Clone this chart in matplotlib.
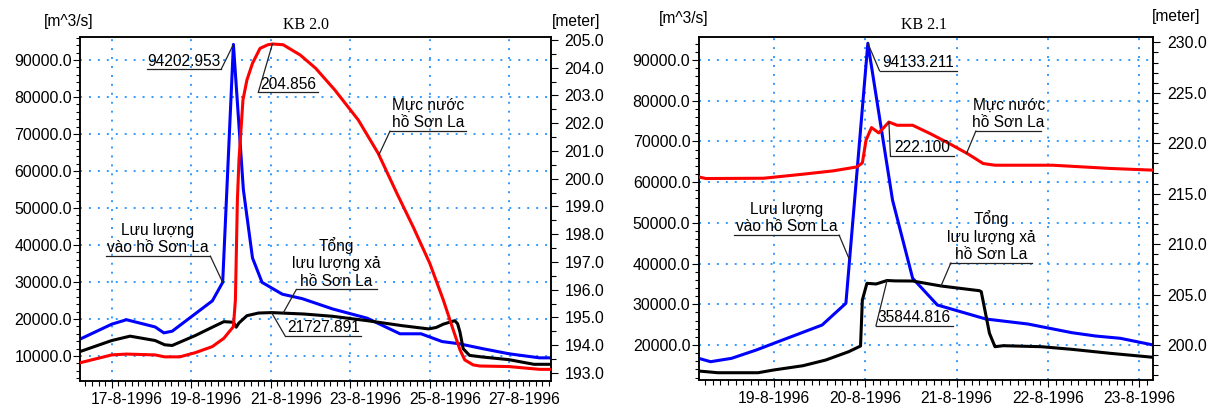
import matplotlib
matplotlib.use("Agg")
import matplotlib.pyplot as plt
import matplotlib.dates as mdates
import matplotlib.transforms as mtransforms
from matplotlib.ticker import MultipleLocator, FormatStrFormatter, FuncFormatter
import numpy as np
from datetime import datetime

plt.rcParams["font.family"] = ["Liberation Sans", "DejaVu Sans"]
plt.rcParams["font.size"] = 11.2

# ---- KB 2.0 (ngay trong thang 8/1996) ----
kb20_q_in_t = [16.21, 17.0, 17.37, 18.09, 18.31, 18.52, 19.53, 19.79, 20.06, 20.31, 20.54, 20.78,
               21.29, 21.79, 22.56, 23.43, 24.25, 24.78, 25.31, 25.74, 26.32, 26.99, 27.76, 28.05]
kb20_q_in = [14600, 18600, 19800, 17850, 16250, 16700, 24900, 29900, 94202.953, 55000, 36500, 29900,
             26700, 25500, 22700, 20200, 16000, 16000, 13900, 13300, 12000, 10600, 9500, 9500]

kb20_q_out_t = [16.21, 17.0, 17.46, 18.09, 18.33, 18.52, 18.81, 19.10, 19.53, 19.82, 20.06, 20.13,
                20.20, 20.40, 20.69, 21.02, 21.84, 22.56, 23.43, 24.30, 24.97, 25.16, 25.34, 25.55,
                25.63, 25.70, 25.76, 25.84, 26.0, 26.32, 26.99, 27.62, 28.05]
kb20_q_out = [11230, 14180, 15360, 14180, 13030, 12840, 14180, 15520, 17780, 19280, 19120, 17780,
              18930, 20890, 21610, 21727.891, 21340, 20720, 19540, 18200, 17320, 17700, 18600, 19300,
              19540, 18700, 16430, 11960, 10160, 9730, 9010, 7750, 7750]

kb20_h_t = [16.21, 17.0, 17.37, 18.09, 18.33, 18.71, 19.10, 19.53, 19.82, 20.06, 20.11, 20.16,
            20.20, 20.30, 20.40, 20.54, 20.73, 20.93, 21.04, 21.31, 21.74, 22.13, 22.61, 23.20,
            23.70, 24.17, 24.58, 25.0, 25.34, 25.59, 25.76, 25.88, 26.09, 26.26, 26.99, 27.76, 28.05]
kb20_h = [193.37, 193.65, 193.68, 193.65, 193.58, 193.58, 193.73, 193.95, 194.25, 194.67, 195.63, 199.23,
          200.68, 202.84, 203.56, 204.16, 204.70, 204.83, 204.856, 204.83, 204.46, 203.98, 203.20, 202.12,
          200.92, 199.48, 198.27, 196.95, 195.63, 194.55, 193.83, 193.47, 193.29, 193.25, 193.23, 193.13, 193.13]

# ---- KB 2.1 ----
kb21_q_in_t = [18.18, 18.31, 18.54, 18.81, 19.0, 19.53, 19.79, 20.03, 20.30, 20.52, 20.79, 21.32,
               21.78, 22.26, 22.52, 22.79, 23.15]
kb21_q_in = [16730, 15900, 16730, 18770, 20400, 24910, 30250, 94133.211, 55600, 36390, 29830, 26390,
             25160, 23030, 22210, 21650, 20000]

kb21_q_out_t = [18.18, 18.39, 18.83, 19.0, 19.32, 19.57, 19.82, 19.95, 19.97, 20.02, 20.12, 20.24,
                20.33, 20.52, 20.83, 21.25, 21.27, 21.36, 21.42, 21.51, 21.93, 22.26, 22.68, 23.15]
kb21_q_out = [13610, 13190, 13190, 13860, 14910, 16310, 18350, 19750, 31060, 35160, 34990, 35844.816,
              35750, 35720, 34500, 33340, 33100, 22870, 19580, 19830, 19580, 18940, 17960, 16980]

kb21_h_t = [18.18, 18.26, 18.89, 19.32, 19.65, 19.91, 19.97, 20.01, 20.07, 20.15, 20.26, 20.35,
            20.52, 20.71, 20.92, 21.13, 21.29, 21.42, 22.05, 22.68, 23.15]
kb21_h = [216.66, 216.50, 216.53, 216.93, 217.26, 217.65, 218.05, 220.30, 221.55, 221.02, 222.10, 221.78,
          221.78, 220.96, 219.97, 218.91, 217.99, 217.82, 217.82, 217.50, 217.33]

GOC = mdates.date2num(datetime(1996, 8, 1))


def ngay(d):
    return GOC + np.asarray(d, dtype=float) - 1


def nhan_ngay(v, pos):
    d = mdates.num2date(v)
    return f"{d.day}-{d.month}-{d.year}"


def chu_thich(ax_ve, text, x0, x1, y, goc, diem, he):
    """gach chan + duong dan toi diem tren duong"""
    ax_ve.plot([x0, x1], [y, y], transform=ax_ve.transAxes, color="#222222", lw=0.9,
               clip_on=False, zorder=6)
    ax_ve.annotate(text, xy=((x0 + x1) / 2, y), xycoords="axes fraction", xytext=(0, 0.6),
                   textcoords="offset points", ha="center", va="bottom", fontsize=11.2,
                   multialignment="center", zorder=6)
    xa = x0 if goc == "left" else x1
    ax_ve.annotate("", xy=diem, xycoords=he, xytext=(xa, y), textcoords="axes fraction",
                   arrowprops=dict(arrowstyle="-", color="#222222", lw=0.9, shrinkA=0, shrinkB=0),
                   zorder=6)


fig = plt.figure(figsize=(12.14, 4.08), dpi=100)

panels = [
    dict(title="KB 2.0", pos=[0.0662, 0.0662, 0.3877, 0.8439], t=(kb20_q_in_t, kb20_q_out_t, kb20_h_t),
         v=(kb20_q_in, kb20_q_out, kb20_h), xlim=(16.21, 28.05), ylim=(3243, 96300), y2lim=(192.71, 205.12),
         y2major=1.0, y2minor=0.5, xmajor=mdates.DayLocator(bymonthday=range(1, 32, 2)),
         xminor=mdates.HourLocator(byhour=range(0, 24, 4)), title_x=0.479, lech_nhan=15),
    dict(title="KB 2.1", pos=[0.5755, 0.0686, 0.3744, 0.8400], t=(kb21_q_in_t, kb21_q_out_t, kb21_h_t),
         v=(kb21_q_in, kb21_q_out, kb21_h), xlim=(18.18, 23.15), ylim=(11400, 95600), y2lim=(196.53, 230.5),
         y2major=5.0, y2minor=1.0, xmajor=mdates.DayLocator(),
         xminor=mdates.HourLocator(byhour=range(0, 24, 2)), title_x=0.496, lech_nhan=0),
]

# vi tri chu thich (phan so truc): text, x0, x1, y, dau noi, chuoi, ngay tren duong (None = dinh)
chu_thich_kb20 = [
    ("94202.953", 0.142, 0.299, 0.905, "right", "in", None),
    ("204.856", 0.378, 0.505, 0.838, "left", "h", None),
    ("Mực nước\nhồ Sơn La", 0.658, 0.819, 0.726, "left", "h", 23.72),
    ("Lưu lượng\nvào hồ Sơn La", 0.054, 0.276, 0.363, "right", "in", 19.79),
    ("Tổng\nlưu lượng xả\nhồ Sơn La", 0.459, 0.630, 0.266, "left", "out", 21.31),
    ("21727.891", 0.435, 0.597, 0.131, "left", "out", None),
]
chu_thich_kb21 = [
    ("94133.211", 0.398, 0.568, 0.902, "left", "in", None),
    ("222.100", 0.422, 0.561, 0.654, "left", "h", None),
    ("Mực nước\nhồ Sơn La", 0.610, 0.754, 0.727, "left", "h", 21.11),
    ("Lưu lượng\nvào hồ Sơn La", 0.078, 0.309, 0.423, "right", "in", 19.83),
    ("Tổng\nlưu lượng xả\nhồ Sơn La", 0.555, 0.733, 0.342, "left", "out", 20.83),
    ("35844.816", 0.390, 0.559, 0.158, "left", "out", None),
]

truc_x = []
for p, cts in zip(panels, [chu_thich_kb20, chu_thich_kb21]):
    ax = fig.add_axes(p["pos"])
    ax2 = ax.twinx()
    t_in, t_out, t_h = p["t"]
    q_in, q_out, h = p["v"]

    ax.plot(ngay(t_in), q_in, color="#0000ff", lw=2.2, zorder=3)
    ax.plot(ngay(t_out), q_out, color="black", lw=2.2, zorder=3)
    ax2.plot(ngay(t_h), h, color="#ff0000", lw=2.2, zorder=3)

    ax.set_xlim(ngay(p["xlim"][0]), ngay(p["xlim"][1]))
    ax.set_ylim(*p["ylim"])
    ax2.set_ylim(*p["y2lim"])

    ax.xaxis.set_major_locator(p["xmajor"])
    ax.xaxis.set_minor_locator(p["xminor"])
    ax.xaxis.set_major_formatter(FuncFormatter(nhan_ngay))
    ax.yaxis.set_major_locator(MultipleLocator(10000))
    ax.yaxis.set_minor_locator(MultipleLocator(2000))
    ax.yaxis.set_major_formatter(FormatStrFormatter("%.1f"))
    ax2.yaxis.set_major_locator(MultipleLocator(p["y2major"]))
    ax2.yaxis.set_minor_locator(MultipleLocator(p["y2minor"]))
    ax2.yaxis.set_major_formatter(FormatStrFormatter("%.1f"))

    ax.grid(True, which="major", color="#3399ff", linestyle=(0, (1, 3.6)), linewidth=1.4)
    ax.tick_params(axis="y", which="major", length=4.8, width=0.8, pad=1.2, labelsize=11.4)
    ax.tick_params(axis="y", which="minor", length=3.0, width=0.8)
    ax.tick_params(axis="x", which="major", length=4.8, width=0.8, pad=3, labelsize=11.3)
    ax.tick_params(axis="x", which="minor", length=3.6, width=0.8)
    ax2.tick_params(axis="y", which="major", length=4.8, width=0.8, pad=5, labelsize=11.4)
    ax2.tick_params(axis="y", which="minor", length=3.6, width=0.8)
    for a in (ax, ax2):
        for s in a.spines.values():
            s.set_linewidth(1.1)

    ax.text(p["title_x"], 1.035, p["title"], transform=ax.transAxes, ha="center", va="center",
            fontsize=11.5, family="Liberation Serif")

    chuoi = {"in": (t_in, q_in, ax.transData), "out": (t_out, q_out, ax.transData),
             "h": (t_h, h, ax2.transData)}
    for text, x0, x1, y, goc, ten, td in cts:
        tt, vv, he = chuoi[ten]
        if td is None:
            i = int(np.argmax(vv))
            diem = (ngay(tt[i]), vv[i])
        else:
            diem = (ngay(td), float(np.interp(td, tt, vv)))
        chu_thich(ax2, text, x0, x1, y, goc, diem, he)
    truc_x.append((ax, p["lech_nhan"]))

fig.text(69 / 1214, 1 - 21.7 / 408, "[m^3/s]", ha="center", va="center", fontsize=11.2)
fig.text(576 / 1214, 1 - 21.7 / 408, "[meter]", ha="center", va="center", fontsize=11.2)
fig.text(684 / 1214, 1 - 18 / 408, "[m^3/s]", ha="center", va="center", fontsize=11.2)
fig.text(1176 / 1214, 1 - 17 / 408, "[meter]", ha="center", va="center", fontsize=11.2)

# nhan ngay cua KB 2.0 lech sang phai so voi vach
fig.canvas.draw()
for ax, lech in truc_x:
    if lech:
        dich = mtransforms.ScaledTranslation(lech / 100, 0, fig.dpi_scale_trans)
        for lb in ax.get_xticklabels():
            lb.set_transform(lb.get_transform() + dich)

fig.savefig("out.png", dpi=100)
